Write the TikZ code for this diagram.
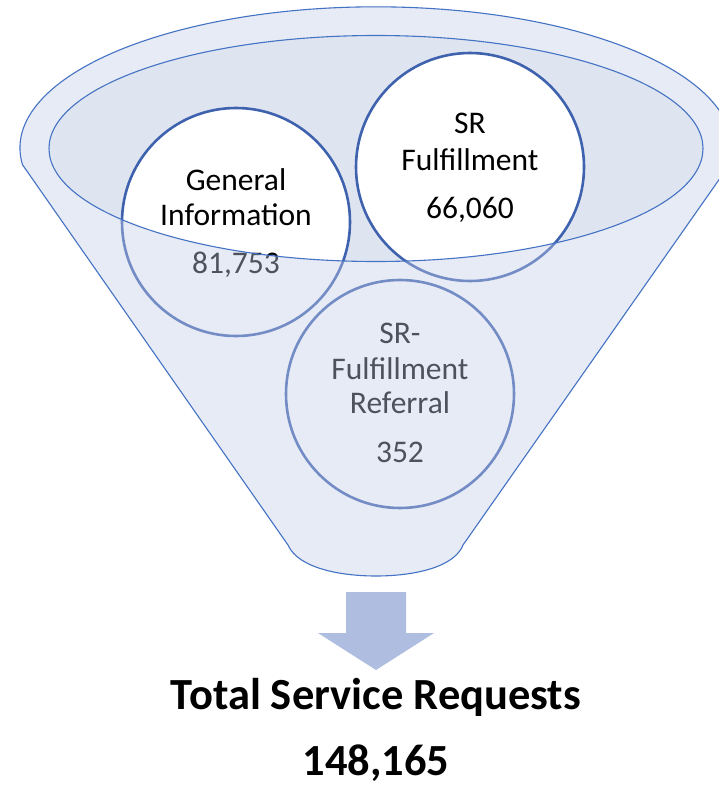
\documentclass[tikz,border=0pt]{standalone}
\usepackage{fontspec}
\setmainfont{Carlito}
\definecolor{veil}{HTML}{C3CDE8}
\definecolor{innerc}{HTML}{DFE4F1}
\definecolor{edge}{HTML}{4472C4}
\definecolor{ring}{HTML}{3F62AE}
\definecolor{arrowc}{HTML}{AFBDE0}
\begin{document}
\begin{tikzpicture}[x=1pt,y=1pt,
  bubble/.style={circle, draw=ring, line width=2.6pt, fill=white, minimum size=228pt, inner sep=0pt},
  lbl/.style={anchor=base, font=\fontsize{31.5}{33}\selectfont, text=black, inner sep=0pt},
  tot/.style={anchor=base, font=\fontsize{44.5}{48}\selectfont\bfseries, text=black, inner sep=0pt},
  rimline/.style={draw=edge, line width=1.1pt}]
\fill[white] (0,0) rectangle (719,-787);
\useasboundingbox (0,0) rectangle (719,-787);
\clip (0,0) rectangle (719,-787);
% back surface of the funnel mouth
\fill[innerc] (376,-148.5) ellipse [x radius=327, y radius=113];
% circles
\node[bubble] (gi) at (236,-222) {};
\node[bubble] (srf) at (470,-167) {};
\node[bubble] (ref) at (400,-394) {};
% texts
\node[lbl] (gi1) at (236,-190) {General};
\node[lbl] (gi2) at (236,-225) {Information};
\node[lbl] (gi3) at (236,-273) {81,753};
\node[lbl] (sr1) at (470,-133) {SR};
\node[lbl] (sr2) at (470,-170) {Fulfillment};
\node[lbl] (sr3) at (470,-218) {66,060};
\node[lbl] (rf1) at (400,-343) {SR-};
\node[lbl] (rf2) at (400,-379) {Fulfillment};
\node[lbl] (rf3) at (400,-413) {Referral};
\node[lbl] (rf4) at (400,-462) {352};
% front of the funnel (translucent)
\def\funnelpath{(22.7,-165) -- (288,-545) .. controls (298,-568) and (340,-576) .. (376,-576) .. controls (412,-576) and (454,-568) .. (463,-545) -- (729.3,-165) arc[start angle=-7, end angle=187, x radius=356, y radius=141] -- cycle}
\fill[veil, fill opacity=0.4, even odd rule] \funnelpath (376,-148.5) ellipse [x radius=327, y radius=113];
\draw[rimline] \funnelpath;
\draw[rimline] (376,-148.5) ellipse [x radius=327, y radius=113];
% block arrow
\fill[arrowc] (346,-592) -- (406,-592) -- (406,-633) -- (434,-633) -- (376,-670) -- (318,-633) -- (346,-633) -- cycle;
% totals
\node[tot] (t1) at (376,-709) {Total Service Requests};
\node[tot] (t2) at (376,-775) {148,165};
\end{tikzpicture}
\end{document}
